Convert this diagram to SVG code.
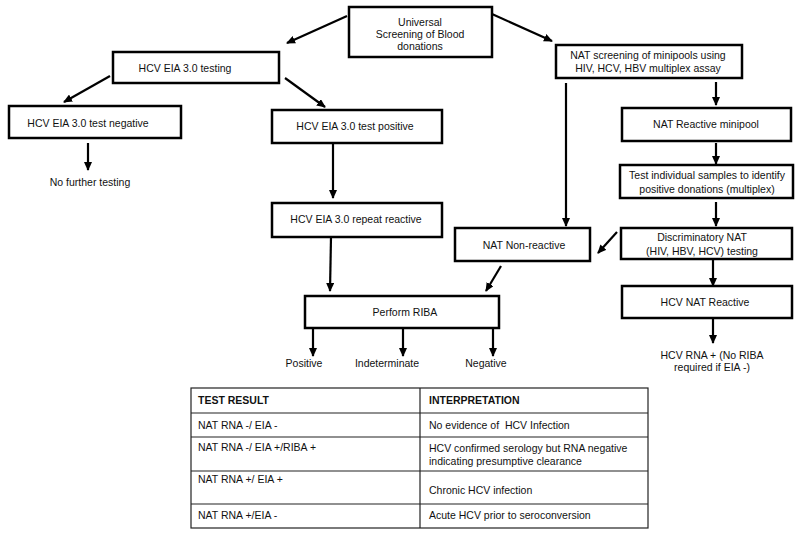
<svg xmlns="http://www.w3.org/2000/svg" width="800" height="538" viewBox="0 0 800 538">
<defs>
<marker id="ah" markerWidth="9" markerHeight="8" refX="8" refY="4" orient="auto" markerUnits="userSpaceOnUse">
<path d="M0,0 L9,4 L0,8 Z" fill="#000"/>
</marker>
<style>
.box{fill:#fff;stroke:#000;stroke-width:2.5}
.t{font-family:"Liberation Sans",Arial,sans-serif;font-size:10.5px;fill:#111;text-anchor:middle}
.tl{font-family:"Liberation Sans",Arial,sans-serif;font-size:10.5px;fill:#111;white-space:pre}
.b{font-weight:bold}
.c{stroke:#000;stroke-width:2.2;fill:none;marker-end:url(#ah)}
.tb{fill:none;stroke:#222;stroke-width:1.2}
</style>
</defs>
<rect width="800" height="538" fill="#fff"/>

<g id="connectors">
<line class="c" x1="347" y1="16" x2="287" y2="43"/>
<line class="c" x1="492" y1="14" x2="552" y2="41"/>
<line class="c" x1="110" y1="76" x2="64" y2="102"/>
<line class="c" x1="285" y1="78" x2="325" y2="107"/>
<line class="c" x1="88" y1="143" x2="88" y2="170"/>
<line class="c" x1="333" y1="144" x2="333" y2="198"/>
<line class="c" x1="331" y1="237" x2="330" y2="291"/>
<line class="c" x1="501" y1="266" x2="486" y2="291"/>
<line class="c" x1="566" y1="83" x2="566" y2="226"/>
<line class="c" x1="716" y1="82" x2="716" y2="105"/>
<line class="c" x1="716" y1="143" x2="716" y2="164"/>
<line class="c" x1="716" y1="202" x2="716" y2="226"/>
<line class="c" x1="617" y1="232" x2="598" y2="253"/>
<line class="c" x1="713" y1="259" x2="713" y2="286"/>
<line class="c" x1="713" y1="319" x2="713" y2="343"/>
<line class="c" x1="313" y1="329" x2="313" y2="356"/>
<line class="c" x1="403" y1="329" x2="403" y2="356"/>
<line class="c" x1="493" y1="329" x2="493" y2="356"/>
</g>

<g id="universal">
<rect class="box" x="349" y="7" width="143" height="50"/>
<text class="t" x="420" y="26">Universal</text>
<text class="t" x="420" y="38">Screening of Blood</text>
<text class="t" x="420" y="50">donations</text>
</g>

<g id="eia-testing">
<rect class="box" x="113" y="52" width="166" height="31"/>
<text class="t" x="185" y="72">HCV EIA 3.0 testing</text>
</g>

<g id="eia-negative">
<rect class="box" x="9" y="106" width="172" height="32"/>
<text class="t" x="88" y="127">HCV EIA 3.0 test negative</text>
</g>

<g id="no-further">
<text class="t" x="90" y="186">No further testing</text>
</g>

<g id="eia-positive">
<rect class="box" x="272" y="110" width="170" height="33"/>
<text class="t" x="355" y="130">HCV EIA 3.0 test positive</text>
</g>

<g id="eia-repeat">
<rect class="box" x="272" y="203" width="170" height="34"/>
<text class="t" x="356" y="223">HCV EIA 3.0 repeat reactive</text>
</g>

<g id="riba">
<rect class="box" x="305" y="296" width="194" height="32"/>
<text class="t" x="405" y="316">Perform RIBA</text>
</g>

<g id="riba-results">
<text class="t" x="304" y="367">Positive</text>
<text class="t" x="387" y="367">Indeterminate</text>
<text class="t" x="486" y="367">Negative</text>
</g>

<g id="nat-nonreactive">
<rect class="box" x="455" y="228" width="135" height="33"/>
<text class="t" x="524" y="249">NAT Non-reactive</text>
</g>

<g id="nat-screening">
<rect class="box" x="556" y="45" width="186" height="33"/>
<text class="t" x="648" y="59">NAT screening of minipools using</text>
<text class="t" x="648" y="72">HIV, HCV, HBV multiplex assay</text>
</g>

<g id="nat-reactive-minipool">
<rect class="box" x="622" y="108" width="169" height="33"/>
<text class="t" x="706" y="128">NAT Reactive minipool</text>
</g>

<g id="test-individual">
<rect class="box" x="620" y="165" width="173" height="33"/>
<text class="t" x="707" y="179">Test individual samples to identify</text>
<text class="t" x="707" y="193">positive donations (multiplex)</text>
</g>

<g id="discriminatory">
<rect class="box" x="621" y="228" width="171" height="31"/>
<text class="t" x="702" y="241">Discriminatory NAT</text>
<text class="t" x="702" y="255">(HIV, HBV, HCV) testing</text>
</g>

<g id="hcv-nat-reactive">
<rect class="box" x="622" y="286" width="170" height="32"/>
<text class="t" x="705" y="306">HCV NAT Reactive</text>
</g>

<g id="hcv-rna">
<text class="t" x="712" y="359">HCV RNA + (No RIBA</text>
<text class="t" x="712" y="371">required if EIA -)</text>
</g>

<g id="table">
<rect class="tb" x="191" y="388" width="457" height="140"/>
<line class="tb" x1="420" y1="388" x2="420" y2="528"/>
<line class="tb" x1="191" y1="413" x2="648" y2="413"/>
<line class="tb" x1="191" y1="437" x2="648" y2="437"/>
<line class="tb" x1="191" y1="471" x2="648" y2="471"/>
<line class="tb" x1="191" y1="504" x2="648" y2="504"/>
<text class="tl b" x="198" y="404">TEST RESULT</text>
<text class="tl b" x="429" y="404">INTERPRETATION</text>
<text class="tl" x="198" y="429">NAT RNA -/ EIA -</text>
<text class="tl" x="429" y="429">No evidence of  HCV Infection</text>
<text class="tl" x="198" y="451">NAT RNA -/ EIA +/RIBA +</text>
<text class="tl" x="429" y="452">HCV confirmed serology but RNA negative</text>
<text class="tl" x="429" y="465">indicating presumptive clearance</text>
<text class="tl" x="198" y="483">NAT RNA +/ EIA +</text>
<text class="tl" x="429" y="494">Chronic HCV infection</text>
<text class="tl" x="198" y="519">NAT RNA +/EIA -</text>
<text class="tl" x="429" y="519">Acute HCV prior to seroconversion</text>
</g>
</svg>
